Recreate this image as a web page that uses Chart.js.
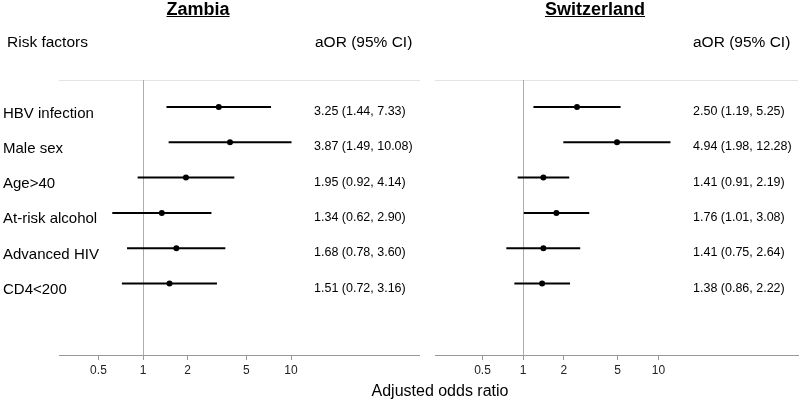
<!DOCTYPE html>
<html>
<head>
<meta charset="utf-8">
<script src="https://cdn.jsdelivr.net/npm/chart.js@4"></script>
<style>
  body { margin: 0; width: 800px; height: 401px; background: #fff; position: relative; overflow: hidden;
         font-family: "Liberation Sans", Arial, sans-serif; color: #000; }
  .box { position: absolute; top: 0; height: 401px; }
  .txt { position: absolute; white-space: nowrap; }
  .title { font-weight: bold; font-size: 18px; line-height: 18px; text-decoration: underline; transform: translateX(-50%); }
  .head { font-size: 15.5px; line-height: 15.5px; }
  .axis { font-size: 16px; line-height: 16px; transform: translateX(-50%); }
</style>
</head>
<body>
<div class="box" style="left:0;width:420px"><canvas id="zambiaChart"></canvas></div>
<div class="box" style="left:420px;width:380px"><canvas id="swissChart"></canvas></div>

<div class="txt title" style="left:198px;top:0">Zambia</div>
<div class="txt title" style="left:595px;top:0">Switzerland</div>
<div class="txt head" style="left:7px;top:34px">Risk factors</div>
<div class="txt head" style="left:315px;top:34px">aOR (95% CI)</div>
<div class="txt head" style="left:693px;top:34px">aOR (95% CI)</div>
<div class="txt axis" style="left:440px;top:383px">Adjusted odds ratio</div>

<script>
const FONT = '"Liberation Sans", Arial, sans-serif';

const riskFactors = ['HBV infection', 'Male sex', 'Age>40', 'At-risk alcohol', 'Advanced HIV', 'CD4<200'];
const zambiaOR   = [3.25, 3.87, 1.95, 1.34, 1.68, 1.51];
const zambiaLow  = [1.44, 1.49, 0.92, 0.62, 0.78, 0.72];
const zambiaHigh = [7.33, 10.08, 4.14, 2.90, 3.60, 3.16];
const swissOR    = [2.50, 4.94, 1.41, 1.76, 1.41, 1.38];
const swissLow   = [1.19, 1.98, 0.91, 1.01, 0.75, 0.86];
const swissHigh  = [5.25, 12.28, 2.19, 3.08, 2.64, 2.22];
const xTicks = [0.5, 1, 2, 5, 10];

// grey frame lines + row texts, placed through the chart's own scales
const forestPlugin = {
    id: 'forest',
    beforeDatasetsDraw(chart, args, opts) {
        const { ctx, chartArea: a, scales: { x } } = chart;
        ctx.save();
        ctx.lineWidth = 1;
        ctx.strokeStyle = '#e3e3e3';
        ctx.beginPath();
        ctx.moveTo(a.left, a.top + 0.5);
        ctx.lineTo(a.right, a.top + 0.5);
        ctx.stroke();
        const x1 = Math.round(x.getPixelForValue(1)) + 0.5;
        ctx.strokeStyle = '#adadad';
        ctx.beginPath();
        ctx.moveTo(x1, a.top);
        ctx.lineTo(x1, a.bottom);
        ctx.stroke();
        ctx.restore();
    },
    afterDatasetsDraw(chart, args, opts) {
        const { ctx, scales: { y } } = chart;
        ctx.save();
        ctx.fillStyle = '#000';
        ctx.textBaseline = 'alphabetic';
        opts.or.forEach((v, i) => {
            const py = y.getPixelForValue(i);
            if (opts.showLabels) {
                ctx.font = '15px ' + FONT;
                ctx.textAlign = 'left';
                ctx.fillText(riskFactors[i], 3, py + 10.5);
            }
            ctx.font = '12.5px ' + FONT;
            ctx.fillText(`${v.toFixed(2)} (${opts.lo[i].toFixed(2)}, ${opts.hi[i].toFixed(2)})`, opts.textX, py + 8);
        });
        ctx.restore();
    }
};

function makeForest(id, or, lo, hi, cfg) {
    const ciSets = or.map((_, i) => ({
        type: 'line',
        data: [{ x: lo[i], y: i }, { x: hi[i], y: i }],
        borderColor: '#000', borderWidth: 2, pointRadius: 0, fill: false
    }));
    const pointSet = {
        type: 'scatter',
        data: or.map((v, i) => ({ x: v, y: i })),
        pointRadius: 3, backgroundColor: '#000', borderColor: '#000', borderWidth: 0
    };
    return new Chart(document.getElementById(id), {
        type: 'line',
        data: { datasets: [...ciSets, pointSet] },
        options: {
            responsive: true, maintainAspectRatio: false, animation: false,
            layout: { autoPadding: false, padding: { left: cfg.padLeft, right: cfg.padRight, top: 80, bottom: 0 } },
            plugins: {
                legend: { display: false }, tooltip: { enabled: false },
                forest: { or, lo, hi, showLabels: cfg.showLabels, textX: cfg.textX }
            },
            scales: {
                x: {
                    type: 'logarithmic', min: cfg.xMin, max: cfg.xMax,
                    afterBuildTicks: s => { s.ticks = xTicks.map(v => ({ value: v })); },
                    afterFit: s => { s.height = 46; },
                    ticks: { callback: v => String(v), font: { family: FONT, size: 12 }, color: '#222',
                             padding: 3, maxRotation: 0, autoSkip: false },
                    grid: { drawOnChartArea: false, drawTicks: true, tickLength: 5, color: '#999' },
                    border: { color: '#999', width: 1 }
                },
                y: { type: 'linear', reverse: true, min: -0.765, max: 7.025, display: false }
            }
        },
        plugins: [forestPlugin]
    });
}

makeForest('zambiaChart', zambiaOR, zambiaLow, zambiaHigh,
    { padLeft: 59, padRight: 0, xMin: 0.2706, xMax: 74.4, showLabels: true, textX: 314 });
makeForest('swissChart', swissOR, swissLow, swissHigh,
    { padLeft: 15, padRight: 2, xMin: 0.2226, xMax: 107.8, showLabels: false, textX: 273 });
</script>
</body>
</html>
